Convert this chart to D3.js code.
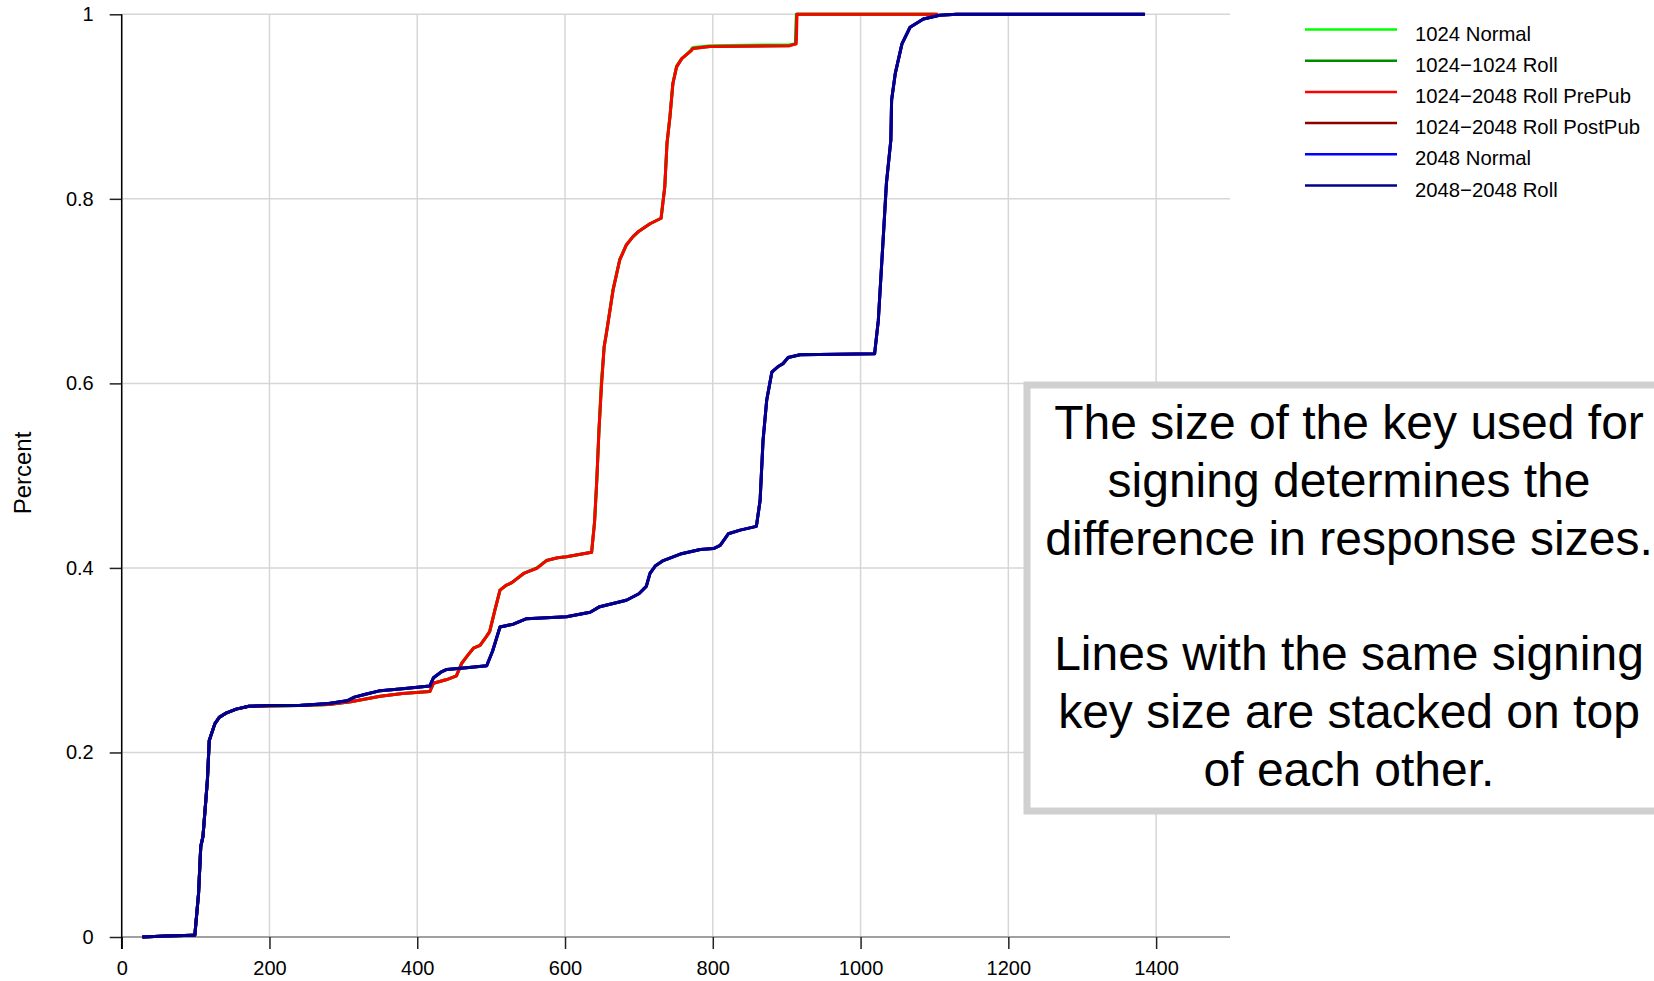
<!DOCTYPE html>
<html>
<head>
<meta charset="utf-8">
<script src="https://cdn.jsdelivr.net/npm/d3@7"></script>
<style>
  html, body { margin: 0; padding: 0; background: #fff; }
  svg { display: block; font-family: "Liberation Sans", Arial, Helvetica, sans-serif; }
</style>
</head>
<body>
<svg id="chart" width="1654" height="981"></svg>
<script>
// ---------- data ----------
const xTicks = [0, 200, 400, 600, 800, 1000, 1200, 1400];
const yTicks = [0, 0.2, 0.4, 0.6, 0.8, 1];
const yTickLabels = ["0", "0.2", "0.4", "0.6", "0.8", "1"];
const yTitle = "Percent";

const seriesNames = ["1024 Normal", "1024\u22121024 Roll", "1024\u22122048 Roll PrePub",
                     "1024\u22122048 Roll PostPub", "2048 Normal", "2048\u22122048 Roll"];
const seriesColors = ["#00ff00", "#008b00", "#ff0000", "#8b0000", "#0000ff", "#00008b"];

const noteLines = ["The size of the key used for", "signing determines the",
                   "difference in response sizes.", "", "Lines with the same signing",
                   "key size are stacked on top", "of each other."];

// [response size, cumulative fraction]
const normal1024 = [[28,0],[60,0.001],[97,0.002],[99,0.002],[104,0.047],[107,0.098],[110,0.109],[116,0.17],[118.5,0.213],[126,0.231],[132,0.238],[142,0.243],[155,0.247],[172,0.25],[240,0.251],[280,0.252],[310,0.255],[330,0.258],[350,0.261],[380,0.264],[417,0.266],[422,0.275],[440,0.279],[453,0.283],[460,0.297],[468,0.305],[476,0.313],[485,0.316],[493,0.325],[498,0.331],[505,0.354],[512,0.376],[520,0.381],[528,0.384],[544,0.394],[562,0.4],[575,0.408],[590,0.411],[602,0.412],[636,0.417],[640,0.45],[643,0.495],[646,0.55],[649,0.6],[653,0.64],[656,0.655],[665,0.702],[674,0.734],[683,0.75],[692,0.759],[700,0.765],[715,0.773],[730,0.779],[735,0.813],[738,0.86],[742,0.889],[746,0.925],[751,0.944],[758,0.952],[764,0.956],[770,0.961],[773,0.964],[796,0.966],[904,0.967],[912,0.968],[913,1],[1100,1]];
const roll1024 = [[28,0],[60,0.001],[97,0.002],[99,0.002],[104,0.047],[107,0.098],[110,0.109],[116,0.17],[118.5,0.213],[126,0.231],[132,0.238],[142,0.243],[155,0.247],[172,0.25],[240,0.251],[280,0.252],[310,0.255],[330,0.258],[350,0.261],[380,0.264],[417,0.266],[422,0.275],[440,0.279],[453,0.283],[460,0.296],[468,0.305],[476,0.313],[485,0.316],[493,0.325],[498,0.331],[505,0.354],[512,0.376],[520,0.381],[528,0.384],[544,0.394],[562,0.4],[575,0.408],[590,0.411],[602,0.412],[636,0.417],[640,0.45],[643,0.495],[646,0.55],[649.5,0.6],[653,0.64],[656,0.654],[665,0.701],[674,0.734],[683,0.75],[692,0.759],[700,0.765],[715,0.773],[730,0.779],[735,0.813],[738,0.86],[742,0.889],[746,0.925],[751,0.943],[758,0.952],[764,0.956],[770,0.96],[773,0.963],[796,0.965],[904,0.966],[912,0.968],[913.5,1],[1103,1]];
const prePub1024 = [[28,0],[60,0.001],[97,0.002],[99,0.002],[104,0.047],[107,0.098],[110,0.109],[116,0.17],[118.5,0.213],[126,0.231],[132,0.238],[142,0.243],[155,0.247],[172,0.25],[240,0.251],[280,0.252],[310,0.255],[330,0.258],[350,0.261],[380,0.264],[417,0.266],[422,0.275],[440,0.279],[453,0.283],[460,0.2965],[468,0.305],[476,0.313],[485,0.316],[493,0.325],[498,0.331],[505,0.354],[512,0.376],[520,0.381],[528,0.384],[544,0.394],[562,0.3995],[575,0.408],[590,0.411],[602,0.412],[636,0.417],[640,0.45],[643,0.495],[646,0.55],[649.5,0.6],[653,0.64],[656,0.654],[665,0.701],[674,0.7335],[683,0.75],[692,0.759],[700,0.765],[715,0.773],[730,0.779],[735,0.813],[738,0.86],[742,0.889],[746,0.925],[751,0.943],[758,0.952],[764,0.956],[770,0.96],[773,0.963],[796,0.965],[904,0.966],[913,0.968],[914,1],[1105,1]];
const postPub2048 = [[28,0],[60,0.001],[97,0.002],[99,0.002],[104,0.047],[107,0.098],[110,0.109],[116,0.17],[118.5,0.213],[126,0.231],[132,0.238],[142,0.243],[155,0.247],[172,0.25],[200,0.251],[240,0.251],[280,0.253],[305,0.256],[315,0.26],[330,0.263],[350,0.267],[380,0.269],[417,0.272],[422,0.281],[432,0.287],[440,0.29],[470,0.292],[494,0.294],[502,0.31],[512,0.336],[530,0.339],[548,0.345],[602,0.347],[634,0.352],[647,0.358],[683,0.365],[700,0.372],[710,0.38],[715,0.394],[722,0.402],[733,0.408],[756,0.415],[783,0.42],[801,0.421],[810,0.4245],[821,0.437],[837,0.441],[859,0.445],[864,0.473],[868,0.538],[873,0.582],[880,0.612],[888,0.618],[895,0.621],[902,0.628],[918,0.631],[1019,0.632],[1024,0.668],[1031,0.762],[1035,0.817],[1041,0.864],[1042,0.907],[1047,0.936],[1056,0.968],[1067,0.986],[1085,0.995],[1107,0.999],[1130,1],[1384,1]];
const normal2048 = [[28,0],[60,0.001],[97,0.002],[99,0.002],[104,0.047],[107,0.098],[110,0.109],[116,0.17],[118.5,0.213],[126,0.231],[132,0.238],[142,0.243],[155,0.247],[172,0.25],[200,0.251],[240,0.251],[280,0.253],[305,0.256],[315,0.26],[330,0.263],[350,0.267],[380,0.269],[417,0.272],[422,0.281],[432,0.287],[440,0.29],[470,0.292],[494,0.294],[502,0.31],[512,0.336],[530,0.339],[548,0.345],[602,0.347],[634,0.352],[647,0.358],[683,0.365],[700,0.372],[710,0.38],[715,0.394],[722,0.402],[733,0.408],[756,0.415],[783,0.42],[801,0.421],[810,0.4245],[821,0.437],[837,0.441],[859,0.445],[864,0.473],[868,0.538],[873,0.582],[880,0.6125],[888,0.618],[895,0.6215],[902,0.628],[918,0.631],[1019,0.632],[1024,0.668],[1031,0.762],[1035,0.817],[1041,0.864],[1042,0.907],[1047,0.936],[1056,0.968],[1067,0.986],[1085,0.995],[1107,0.999],[1130,1],[1385,1]];
const roll2048 = [[28,0],[60,0.001],[97,0.002],[99,0.002],[104,0.047],[107,0.098],[110,0.109],[116,0.17],[118.5,0.213],[126,0.231],[132,0.238],[142,0.243],[155,0.247],[172,0.25],[200,0.251],[240,0.251],[280,0.253],[305,0.256],[315,0.26],[330,0.263],[350,0.267],[380,0.269],[417,0.272],[422,0.281],[432,0.287],[440,0.29],[470,0.292],[494,0.294],[502,0.31],[512,0.336],[530,0.339],[548,0.345],[602,0.347],[634,0.352],[647,0.358],[683,0.365],[700,0.372],[710,0.38],[715,0.394],[722,0.402],[733,0.408],[756,0.415],[783,0.42],[801,0.421],[810,0.4245],[821,0.437],[837,0.441],[859,0.445],[864,0.473],[868,0.538],[873,0.582],[880,0.6125],[888,0.618],[895,0.6215],[902,0.628],[918,0.631],[1019,0.632],[1024,0.668],[1031,0.762],[1035,0.817],[1041,0.864],[1042,0.907],[1047,0.936],[1056,0.968],[1067,0.986],[1085,0.995],[1107,0.999],[1130,1],[1385,1]];

const seriesData = [normal1024, roll1024, prePub1024, postPub2048, normal2048, roll2048];

// ---------- layout ----------
const svg = d3.select("#chart");
const x = d3.scaleLinear().domain([0, 1500]).range([121.7, 1230]);
const y = d3.scaleLinear().domain([0, 1]).range([937, 14.3]);

// gridlines
const grid = svg.append("g");
grid.selectAll("line.vg").data(xTicks).join("line")
  .attr("x1", d => x(d)).attr("x2", d => x(d))
  .attr("y1", y(1)).attr("y2", y(0))
  .attr("stroke", "#d6d6d6").attr("stroke-width", 1.5);
grid.selectAll("line.hg").data(yTicks.filter(d => d !== 0)).join("line")
  .attr("x1", x(0)).attr("x2", x(1500))
  .attr("y1", d => y(d)).attr("y2", d => y(d))
  .attr("stroke", "#d6d6d6").attr("stroke-width", 1.5);
// zero line
svg.append("line")
  .attr("x1", x(0)).attr("x2", x(1500)).attr("y1", y(0)).attr("y2", y(0))
  .attr("stroke", "#a0a0a0").attr("stroke-width", 2);

// x axis (ticks hanging from zero line)
const xAxis = d3.axisBottom(x).tickValues(xTicks).tickSize(12).tickPadding(12).tickFormat(d3.format("d"));
const gx = svg.append("g").attr("transform", `translate(0,${y(0)})`).call(xAxis);
gx.select(".domain").remove();
gx.selectAll(".tick line").attr("stroke", "#222").attr("stroke-width", 1.5);
gx.selectAll(".tick text").attr("font-size", 20).attr("fill", "#000")
  .attr("font-family", "Liberation Sans, Arial, sans-serif");

// y axis
const yAxis = d3.axisLeft(y).tickValues(yTicks).tickSize(12).tickPadding(16)
  .tickFormat((d, i) => yTickLabels[i]);
const gy = svg.append("g").attr("transform", `translate(${x(0)},0)`).call(yAxis);
gy.select(".domain").remove();
gy.selectAll(".tick line").attr("stroke", "#222").attr("stroke-width", 1.5);
gy.selectAll(".tick text").attr("font-size", 20).attr("fill", "#000")
  .attr("font-family", "Liberation Sans, Arial, sans-serif");
svg.append("line")
  .attr("x1", x(0)).attr("x2", x(0)).attr("y1", y(1)).attr("y2", y(0) + 12)
  .attr("stroke", "#000").attr("stroke-width", 1.5);

// y title
svg.append("text")
  .attr("transform", `translate(31,473) rotate(-90)`)
  .attr("text-anchor", "middle")
  .attr("font-size", 24).attr("fill", "#000")
  .text(yTitle);

// lines
const lineGen = d3.line().x(d => x(d[0])).y(d => y(d[1]));
svg.append("g").selectAll("path").data(seriesData).join("path")
  .attr("d", d => lineGen(d))
  .attr("fill", "none")
  .attr("stroke", (d, i) => seriesColors[i])
  .attr("stroke-width", 3)
  .attr("stroke-linejoin", "round");

// legend
const legend = svg.append("g");
const legY = d3.scalePoint().domain(d3.range(seriesNames.length)).range([29.5, 185.5]);
const leg = legend.selectAll("g").data(seriesNames).join("g")
  .attr("transform", (d, i) => `translate(0,${legY(i)})`);
leg.append("line").attr("x1", 1305).attr("x2", 1397).attr("y1", 0).attr("y2", 0)
  .attr("stroke", (d, i) => seriesColors[i]).attr("stroke-width", 2.5);
leg.append("text").attr("x", 1415).attr("y", 4).attr("dy", "0.35em")
  .attr("font-size", 20.3).attr("fill", "#000").text(d => d);

// annotation box
const box = svg.append("g");
box.append("rect").attr("x", 1027).attr("y", 385).attr("width", 700).attr("height", 426)
  .attr("fill", "#fff").attr("stroke", "#d0d0d0").attr("stroke-width", 7);
box.selectAll("text").data(noteLines).join("text")
  .attr("x", 1349).attr("y", (d, i) => 439 + i * 57.8)
  .attr("text-anchor", "middle").attr("font-size", 48).attr("fill", "#000")
  .text(d => d);
</script>
</body>
</html>
